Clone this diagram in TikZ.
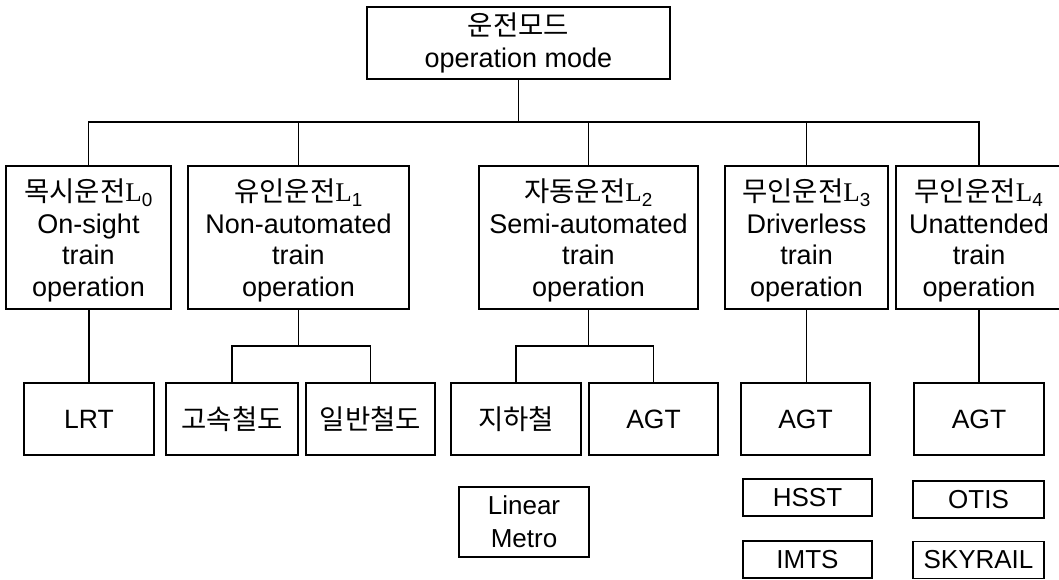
\documentclass[tikz,border=0pt]{standalone}
\usepackage{fontspec}
\setmainfont{Liberation Sans}
\newfontfamily\krfont{Noto Sans CJK KR}
\newfontfamily\lserfont{Liberation Serif}
\newcommand\kor[1]{{\krfont\fontsize{27.5}{31}\selectfont #1}}
\newcommand\lev[1]{{\lserfont L}\textsubscript{#1}}
\begin{document}
\begin{tikzpicture}[x=1pt,y=-1pt,
  box/.style={draw, line width=1.2pt, inner sep=0pt, align=center,
    font=\fontsize{27}{31.5}\selectfont},
  modebox/.style={box, minimum height=143pt, text depth=0pt},
  modetext/.style={align=center, inner sep=0pt, text depth=0pt,
    font=\fontsize{27}{31.5}\selectfont},
  leafbox/.style={box, minimum width=130pt, minimum height=72pt,
    font=\fontsize{26.5}{31}\selectfont},
  smallbox/.style={box, minimum width=130pt, minimum height=37pt,
    font=\fontsize{26}{31}\selectfont},
  conn/.style={line width=1.2pt}]
\useasboundingbox (0,0) rectangle (1059,579);
\clip (0,0) rectangle (1059,579);
\fill[white] (0,0) rectangle (1059,579);

% root
\node[box, minimum width=303pt, minimum height=72pt] (root) at (518.5,43)
  {\kor{운전모드}\\operation mode};

% level 1
\node[modebox, minimum width=165pt] (L0) at (88.5,237.5)
  {\kor{목시운전}\lev{0}\\On-sight\\train\\operation};
\node[modebox, minimum width=221pt] (L1) at (298.5,237.5)
  {\kor{유인운전}\lev{1}\\Non-automated\\train\\operation};
\node[modebox, minimum width=219pt] (L2) at (588.5,237.5)
  {\kor{자동운전}\lev{2}\\Semi-automated\\train\\operation};
\node[modebox, minimum width=163pt] (L3) at (806.5,237.5)
  {\kor{무인운전}\lev{3}\\Driverless\\train\\operation};
\node[modebox, minimum width=176pt] (L4) at (984,237.5) {};
\node[modetext] (L4t) at (979,237.5)
  {\kor{무인운전}\lev{4}\\Unattended\\train\\operation};

% level 2
\node[leafbox] (lrt) at (89,419) {LRT};
\node[leafbox, minimum width=132pt] (hsr) at (232,419) {\kor{고속철도}};
\node[leafbox, minimum width=129pt] (rail) at (370.5,419) {\kor{일반철도}};
\node[leafbox] (sub) at (516,419) {\kor{지하철}};
\node[leafbox, minimum width=129pt] (agtA) at (653.5,419) {AGT};
\node[leafbox, minimum width=129pt] (agtB) at (805.5,419) {AGT};
\node[leafbox] (agtC) at (979,419) {AGT};

% extra boxes
\node[box, minimum width=130pt, minimum height=70pt,
  font=\fontsize{26}{33}\selectfont] (lm) at (524,522) {Linear\\Metro};
\node[smallbox, minimum width=129pt] (hsst) at (807.5,497.5) {HSST};
\node[smallbox, minimum width=129pt] (imts) at (807.5,559.5) {IMTS};
\node[smallbox, minimum width=131pt] (otis) at (978.5,499.5) {OTIS};
\node[smallbox, minimum width=131pt] (sky) at (978.5,560) {SKYRAIL};

% connectors
\coordinate (bus) at (0,122);
\coordinate (t4) at (979,166);
\coordinate (b4) at (979,309);
\draw[conn] (root.south) -- (root.south |- bus);
\draw[conn] (L0.north) -- (L0.north |- bus) -- (t4 |- bus) -- (t4);
\draw[conn] (L1.north) -- (L1.north |- bus);
\draw[conn] (L2.north) -- (L2.north |- bus);
\draw[conn] (L3.north) -- (L3.north |- bus);

\draw[line width=2pt] (L0.south) -- (L0.south |- lrt.north);

\coordinate (j1) at (298,346);
\draw[conn] (L1.south) -- (L1.south |- j1);
\draw[conn] (hsr.north) |- (j1) -| (rail.north);

\coordinate (j2) at (589,346);
\draw[conn] (L2.south) -- (L2.south |- j2);
\draw[conn] (sub.north) |- (j2) -| (agtA.north);

\draw[line width=1.6pt] (L3.south) -- (L3.south |- agtB.north);
\draw[line width=1.6pt] (b4) -- (agtC.north);
\end{tikzpicture}
\end{document}
